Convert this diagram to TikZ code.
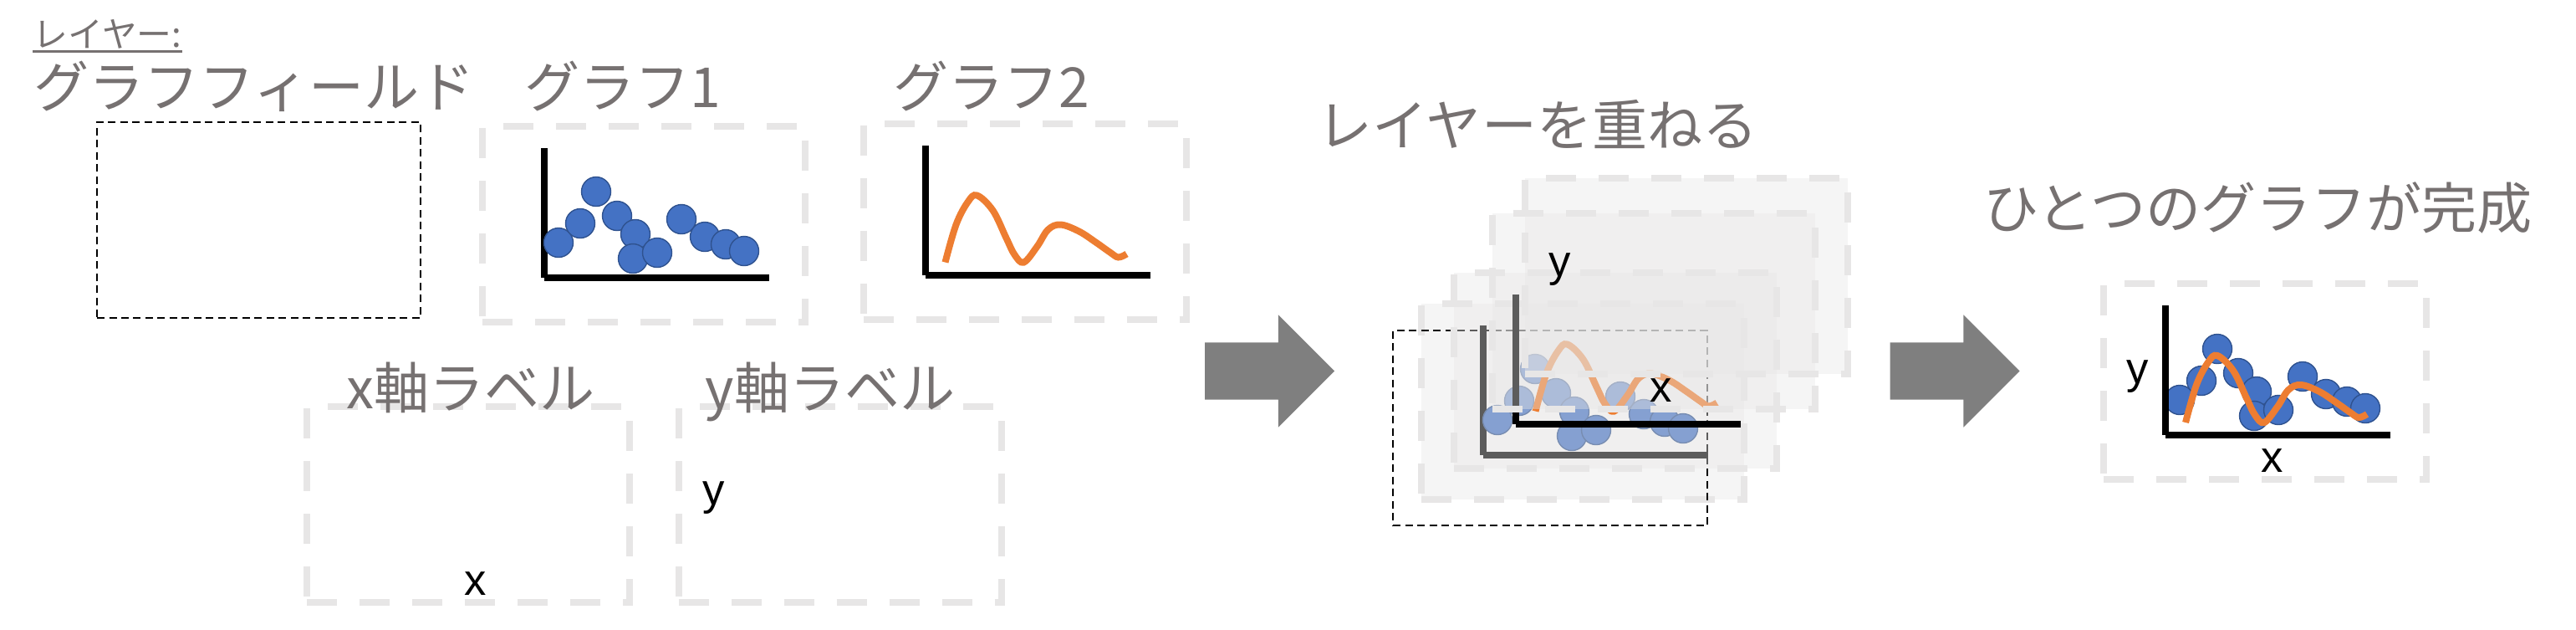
\documentclass[tikz,border=0pt]{standalone}
\usepackage{fontspec}
\setmainfont{Noto Sans CJK JP}
\newfontfamily\axisfont{Liberation Sans}
\usepackage{tikz}
\usetikzlibrary{positioning,calc,shapes.arrows}
\definecolor{lyrgray}{HTML}{767171}
\definecolor{lyrframe}{HTML}{E7E6E6}
\definecolor{lyrblue}{HTML}{4472C4}
\definecolor{lyrblueedge}{HTML}{2F528F}
\definecolor{lyrorange}{HTML}{ED7D31}
\definecolor{lyrarrow}{HTML}{7F7F7F}
\tikzset{
  layerframe/.style={draw=lyrframe,line width=0.08cm,dash pattern=on 0.36cm off 0.27cm,
                     minimum width=3.86cm,minimum height=2.34cm,inner sep=0pt,outer sep=0pt},
  stackframe/.style={layerframe,fill=lyrframe,fill opacity=0.4},
  fieldframe/.style={draw=black,line width=0.6pt,dash pattern=on 0.09cm off 0.055cm,
                     minimum width=3.87cm,minimum height=2.34cm,inner sep=0pt,outer sep=0pt},
  titletext/.style={anchor=base west,inner sep=0pt,text=lyrgray,
                    font=\fontsize{18.8pt}{22pt}\selectfont},
  headtext/.style={anchor=base west,inner sep=0pt,text=lyrgray,
                   font=\fontsize{11.9pt}{14pt}\selectfont},
  axislabel/.style={inner sep=0pt,font=\axisfont\fontsize{15pt}{18pt}\selectfont},
  axisline/.style={line width=0.08cm,draw=black},
  scatterdot/.style={fill=lyrblue,draw=lyrblueedge,line width=0.4pt},
  curveline/.style={draw=lyrorange,line width=0.08cm},
  blockarrow/.style={single arrow,fill=lyrarrow,minimum height=1.55cm,minimum width=1.33cm,
                     single arrow head extend=0.33cm,single arrow head indent=0pt,
                     inner xsep=0pt,inner ysep=0.335cm}
}
% layer contents, drawn from the axis origin
\newcommand{\scatterlayer}{%
  \draw[axisline] (0,1.55) -- (0,0);
  \draw[axisline] (0,0) -- (2.69,0);
  \foreach \ptx/\pty in {0.17/0.42,0.43/0.65,0.62/1.03,0.87/0.74,1.09/0.52,1.06/0.23,
                         1.35/0.30,1.64/0.70,1.92/0.49,2.17/0.40,2.39/0.32}
    \filldraw[scatterdot] (\ptx,\pty) circle (0.175);
}
\newcommand{\curvelayer}{%
  \draw[axisline] (0,1.55) -- (0,0);
  \draw[axisline] (0,0) -- (2.69,0);
  \draw[curveline] plot[smooth,tension=0.6] coordinates {
    (0.24,0.15) (0.37,0.60) (0.51,0.87) (0.62,0.95) (0.81,0.77) (0.97,0.44)
    (1.07,0.24) (1.18,0.15) (1.34,0.34) (1.47,0.54) (1.62,0.60) (1.84,0.52)
    (2.04,0.39) (2.21,0.27) (2.31,0.21) (2.41,0.25)};
}

\begin{document}
\begin{tikzpicture}
    \useasboundingbox (0,0) rectangle (30.81,-7.52);

    % separate layers
    \node[fieldframe] (field) at (3.095,-2.63) {};
    \node[layerframe] (graphone) at (7.70,-2.68) {};
    \begin{scope}[shift={(graphone.north west)},xshift=0.74cm,yshift=-1.81cm]
      \scatterlayer
    \end{scope}
    \node[layerframe] (graphtwo) at (12.255,-2.645) {};
    \begin{scope}[shift={(graphtwo.north west)},xshift=0.74cm,yshift=-1.81cm]
      \curvelayer
    \end{scope}
    \node[layerframe] (xaxisbox) at (5.60,-6.03) {};
    \node[axislabel] (xaxislab) at ($(xaxisbox.north west)+(2.02,-2.12)$) {x};
    \node[layerframe] (yaxisbox) at (10.045,-6.03) {};
    \node[axislabel] (yaxislab) at ($(yaxisbox.north west)+(0.42,-1.09)$) {y};

    \node[headtext] (layerhead) at (0.39,-0.56) {レイヤー:};
    \draw[lyrgray,line width=0.03cm] ([yshift=-0.05cm]layerhead.base west) --
      ([yshift=-0.05cm]layerhead.base east);
    \node[titletext] (fieldtitle) at (0.40,-1.28) {グラフフィールド};
    \node[titletext] (onetitle) at (6.27,-1.28) {グラフ1};
    \node[titletext] (twotitle) at (10.68,-1.28) {グラフ2};
    \node[titletext] (xtitle) at (4.14,-4.88) {x軸ラベル};
    \node[titletext] (ytitle) at (8.43,-4.88) {y軸ラベル};

    \node[blockarrow] (stackarrow) at (15.015,-4.435) {};

    % stacked layers
    \node[stackframe] (stackone) at (18.93,-4.80) {};
    \begin{scope}[shift={(stackone.north west)},xshift=0.74cm,yshift=-1.81cm]
      \scatterlayer
    \end{scope}
    \node[fieldframe,minimum width=3.76cm,minimum height=2.33cm] (stackfield) at (18.54,-5.115) {};
    \node[stackframe] (stacktwo) at (19.315,-4.425) {};
    \begin{scope}[shift={(stacktwo.north west)},xshift=0.74cm,yshift=-1.81cm]
      \curvelayer
    \end{scope}
    \node[stackframe] (stackx) at (19.78,-3.72) {};
    \node[axislabel] (stackxlab) at ($(stackx.north west)+(2.02,-2.12)$) {x};
    \node[stackframe] (stacky) at (20.165,-3.30) {};
    \node[axislabel] (stackylab) at ($(stacky.north west)+(0.42,-1.09)$) {y};
    \node[titletext] (stacktitle) at (15.75,-1.74) {レイヤーを重ねる};

    \node[blockarrow] (donearrow) at (23.21,-4.435) {};

    % finished graph
    \node[layerframe] (complete) at (27.09,-4.56) {};
    \begin{scope}[shift={(complete.north west)},xshift=0.74cm,yshift=-1.81cm]
      \scatterlayer
      \curvelayer
    \end{scope}
    \node[axislabel] (completex) at ($(complete.north west)+(2.02,-2.12)$) {x};
    \node[axislabel] (completey) at ($(complete.north west)+(0.41,-1.11)$) {y};
    \node[titletext] (donetitle) at (23.72,-2.73) {ひとつのグラフが完成};
  \end{tikzpicture}
\end{document}
